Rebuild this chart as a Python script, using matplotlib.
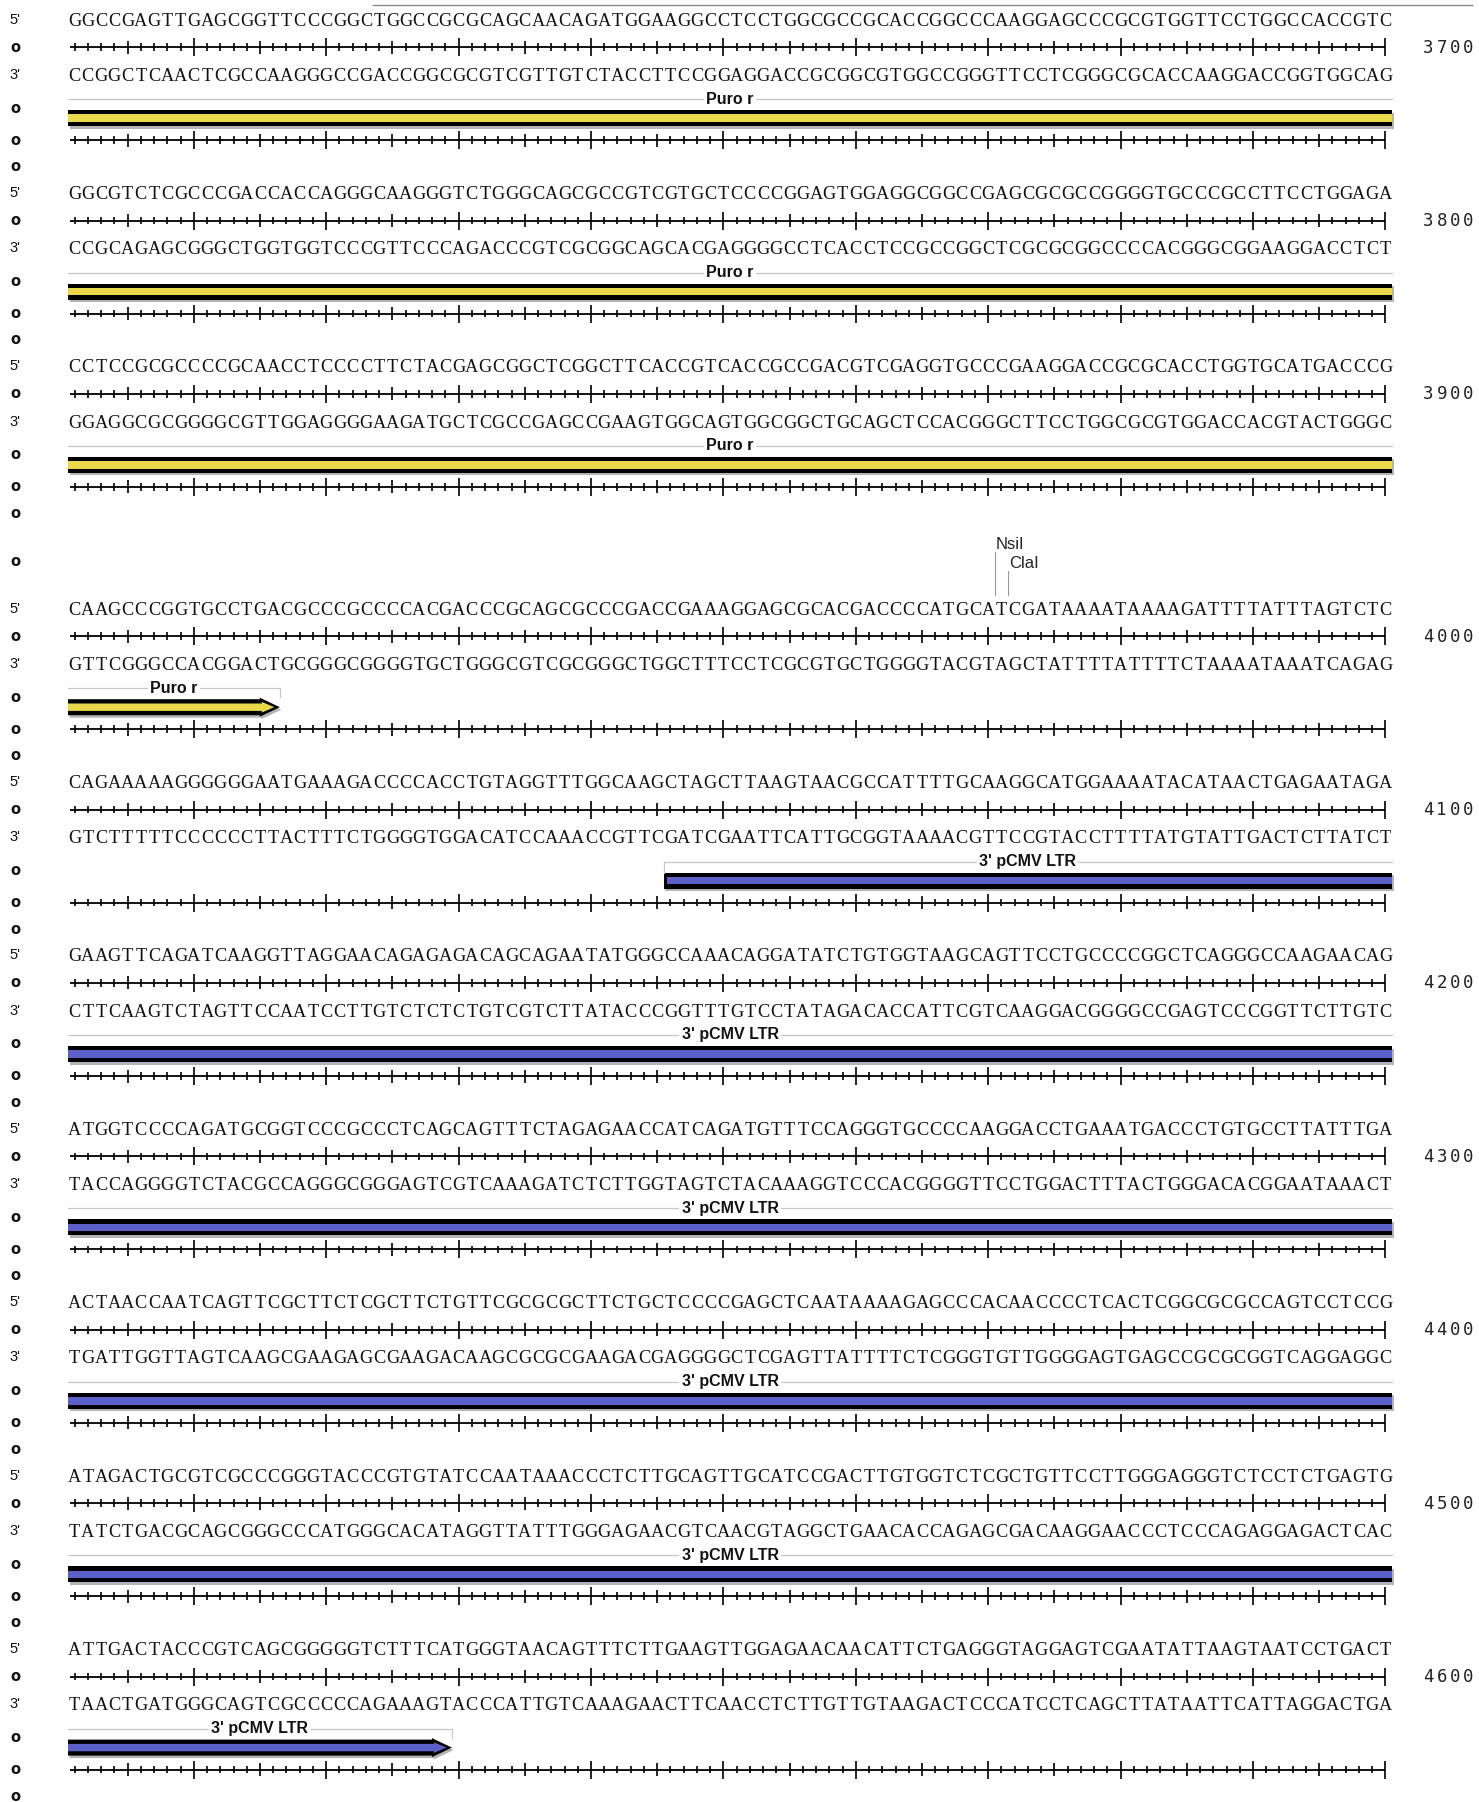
import matplotlib
matplotlib.use('Agg')  # no display
import matplotlib.pyplot as plt
from matplotlib.patches import Polygon

# sequence rows: top strand, 100 nt per row, row_ends = number at the right
row_ends = [3700, 3800, 3900, 4000, 4100, 4200, 4300, 4400, 4500, 4600]
top_strand = [
    'GGCCGAGTTGAGCGGTTCCCGGCTGGCCGCGCAGCAACAGATGGAAGGCCTCCTGGCGCCGCACCGGCCCAAGGAGCCCGCGTGGTTCCTGGCCACCGTC',
    'GGCGTCTCGCCCGACCACCAGGGCAAGGGTCTGGGCAGCGCCGTCGTGCTCCCCGGAGTGGAGGCGGCCGAGCGCGCCGGGGTGCCCGCCTTCCTGGAGA',
    'CCTCCGCGCCCCGCAACCTCCCCTTCTACGAGCGGCTCGGCTTCACCGTCACCGCCGACGTCGAGGTGCCCGAAGGACCGCGCACCTGGTGCATGACCCG',
    'CAAGCCCGGTGCCTGACGCCCGCCCCACGACCCGCAGCGCCCGACCGAAAGGAGCGCACGACCCCATGCATCGATAAAATAAAAGATTTTATTTAGTCTC',
    'CAGAAAAAGGGGGGAATGAAAGACCCCACCTGTAGGTTTGGCAAGCTAGCTTAAGTAACGCCATTTTGCAAGGCATGGAAAATACATAACTGAGAATAGA',
    'GAAGTTCAGATCAAGGTTAGGAACAGAGAGACAGCAGAATATGGGCCAAACAGGATATCTGTGGTAAGCAGTTCCTGCCCCGGCTCAGGGCCAAGAACAG',
    'ATGGTCCCCAGATGCGGTCCCGCCCTCAGCAGTTTCTAGAGAACCATCAGATGTTTCCAGGGTGCCCCAAGGACCTGAAATGACCCTGTGCCTTATTTGA',
    'ACTAACCAATCAGTTCGCTTCTCGCTTCTGTTCGCGCGCTTCTGCTCCCCGAGCTCAATAAAAGAGCCCACAACCCCTCACTCGGCGCGCCAGTCCTCCG',
    'ATAGACTGCGTCGCCCGGGTACCCGTGTATCCAATAAACCCTCTTGCAGTTGCATCCGACTTGTGGTCTCGCTGTTCCTTGGGAGGGTCTCCTCTGAGTG',
    'ATTGACTACCCGTCAGCGGGGGTCTTTCATGGGTAACAGTTTCTTGAAGTTGGAGAACAACATTCTGAGGGTAGGAGTCGAATATTAAGTAATCCTGACT',
]

# features (Puro r starts before the first row shown)
feat_names = ['Puro r', "3' pCMV LTR"]
feat_starts = [3300, 4046]
feat_ends = [3916, 4529]
feat_colors = ['#e9d84a', '#5b5fc8']

# restriction sites (cut after this base)
enz_names = ['NsiI', 'ClaI']
enz_cuts = [3970, 3971]

COMP = str.maketrans('ACGT', 'TGCA')
W, H = 1479, 1802
PX = 13.24   # pixels per base
X0 = 68      # left edge of the sequence


def X(p):
    # pixel x -> base units
    return (p - X0) / PX


fig = plt.figure(figsize=(W / 100, H / 100), dpi=100)
ax = fig.add_axes([0, 0, 1, 1])
ax.set_xlim(X(0), X(W))
ax.set_ylim(H, 0)
ax.axis('off')

seq_font = dict(family='Liberation Serif', fontsize=13.2, color='#111')
side_font = dict(family='Liberation Sans', fontsize=10.5, color='#111')
o_font = dict(family='DejaVu Sans', fontsize=10.5, weight='bold', color='#111')
lab_font = dict(family='Liberation Sans', fontsize=11.5, weight='bold', color='#111')
enz_font = dict(family='Liberation Sans', fontsize=12, color='#222')
num_font = dict(family='DejaVu Sans Mono', fontsize=12.5, color='#222')

# top rule (title cut off)
ax.plot([X(373), X(1472)], [5, 5], color='#888', lw=1)


def side(y, s, font):
    ax.text(X(15), y, s, ha='center', va='center', **font)


def ruler(y):
    ax.plot([X(70), 99.5], [y, y], color='black', lw=1.3, solid_capstyle='butt')
    for i in range(1, 101):
        h = 9 if i % 10 == 0 else (6.5 if i % 5 == 0 else 3.8)
        ax.plot([i - 0.5, i - 0.5], [y - h, y + h], color='black', lw=1.2,
                solid_capstyle='butt')


def strand(y, seq):
    for i, ch in enumerate(seq):
        ax.text(i + 0.5, y + 6, ch, ha='center', va='baseline', **seq_font)


def bar_shapes(xl, xr, yc, arrow, flat_left):
    hl = 20 / PX
    if arrow:
        outer = [(xl, yc - 8), (xr - hl, yc - 8), (xr - hl, yc - 9.5), (xr, yc),
                 (xr - hl, yc + 9.5), (xr - hl, yc + 8), (xl, yc + 8)]
    else:
        outer = [(xl, yc - 8), (xr, yc - 8), (xr, yc + 8), (xl, yc + 8)]
    il = xl + (3 / PX if flat_left else 0)
    if arrow:
        inner = [(il, yc - 3.7), (xr - hl + 2 / PX, yc - 3.7), (xr - hl + 2 / PX, yc - 5.3),
                 (xr - 5.5 / PX, yc), (xr - hl + 2 / PX, yc + 5.3),
                 (xr - hl + 2 / PX, yc + 3.7), (il, yc + 3.7)]
    else:
        inner = [(il, yc - 3.7), (xr, yc - 3.7), (xr, yc + 3.7), (il, yc + 3.7)]
    return outer, inner


y = 47.1
for end, seq in zip(row_ends, top_strand):
    start = end - len(seq) + 1

    # enzyme labels above the row
    cuts = [(n, c) for n, c in zip(enz_names, enz_cuts) if start <= c <= end]
    if cuts:
        y += 68.9
        for j, (n, c) in enumerate(cuts):
            ly = y - 93 + j * 18.5
            xc = c - start + 1
            ax.text(xc + 0.05, ly + 6, n, ha='left', va='baseline', **enz_font)
            ax.plot([xc, xc], [ly + 9, y - 41], color='#999', lw=0.8)
        side(y - 74.7, 'o', o_font)

    side(y - 27.6, "5'", side_font)
    strand(y - 27.6, seq)
    side(y, 'o', o_font)
    ruler(y)
    for i, ch in enumerate(str(end)):
        ax.text(102.75 + i, y + 5.5, ch, ha='center', va='baseline', **num_font)
    side(y + 27.6, "3'", side_font)
    strand(y + 27.6, seq.translate(COMP))

    # features
    for name, fs, fe, col in zip(feat_names, feat_starts, feat_ends, feat_colors):
        s, e = max(fs, start), min(fe, end)
        if s > e:
            continue
        xl, xr = s - start, e - start + 1
        has_l, has_r = fs >= start, fe <= end
        yl, yc = y + 52, y + 71
        ax.plot([xl, xr], [yl, yl], color='#c8c8c8', lw=0.9)
        if has_l:
            ax.plot([xl, xl], [yl, yc - 8], color='#c8c8c8', lw=0.9)
        if has_r:
            ax.plot([xr, xr], [yl, yc - 10], color='#c8c8c8', lw=0.9)
        ax.text((xl + xr) / 2, yl + 4.5, name, ha='center', va='baseline',
                bbox=dict(facecolor='white', edgecolor='none', pad=1.5), **lab_font)
        outer, inner = bar_shapes(xl, xr, yc, has_r, has_l)
        shadow = [(px_ + 1.5 / PX, py + 2.5) for px_, py in outer]
        ax.add_patch(Polygon(shadow, closed=True, facecolor='#b4b4b4', edgecolor='none'))
        ax.add_patch(Polygon(outer, closed=True, facecolor='black', edgecolor='none'))
        ax.add_patch(Polygon(inner, closed=True, facecolor=col, edgecolor='none'))

    side(y + 61, 'o', o_font)
    side(y + 93, 'o', o_font)
    ruler(y + 93)
    side(y + 119.5, 'o', o_font)
    y += 173.4

fig.savefig('out.png', dpi=100)
